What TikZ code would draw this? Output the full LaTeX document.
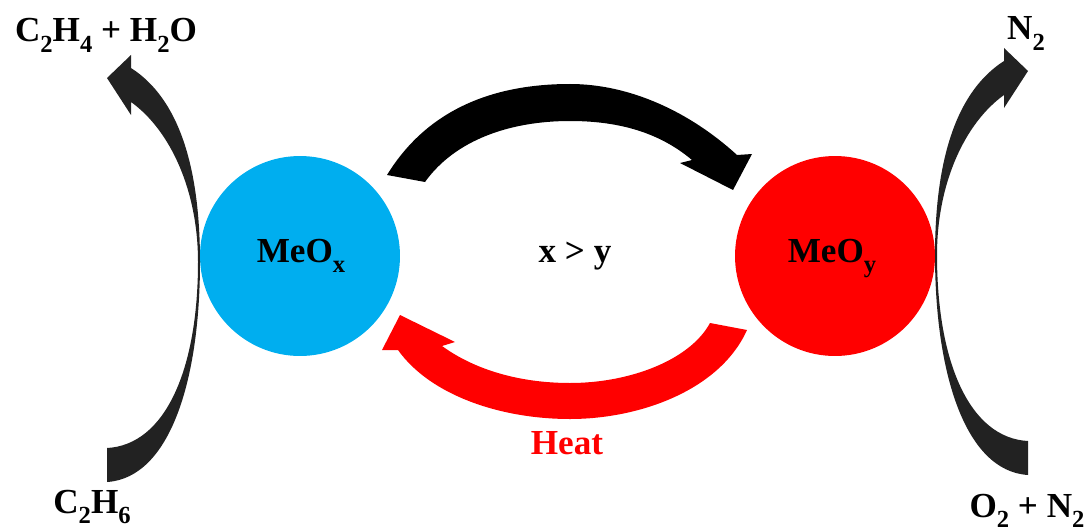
\documentclass[tikz,border=0pt]{standalone}
\usepackage{fontspec}
\setmainfont{Liberation Serif}
\usetikzlibrary{positioning}
\definecolor{oxblue}{RGB}{0,174,239}
\definecolor{hotred}{RGB}{255,0,0}
\definecolor{arrowgray}{RGB}{34,34,34}
\newcommand{\chsub}[1]{\raisebox{-0.3em}{\fontsize{14}{14}\selectfont #1}}
\tikzstyle{ball}=[circle, minimum size=4cm, inner sep=0pt,
  font=\fontsize{20}{24}\selectfont\bfseries]
\tikzstyle{lbl}=[inner sep=0pt, anchor=base,
  font=\fontsize{20}{24}\selectfont\bfseries]

\begin{document}
\begin{tikzpicture}[x=0.02cm, y=-0.02cm]
    \useasboundingbox (0,0) rectangle (1091,527);
    \node[ball, fill=oxblue] (meox) at (300,256) {};
    \node[ball, fill=hotred] (meoy) at (835,256) {};
    \node[lbl] (oxlbl) at (301,262) {MeO\chsub{x}};
    \node[lbl] (redlbl) at (832,262) {MeO\chsub{y}};
    \node[lbl] (ratio) at (575,262) {x > y};
    \node[lbl, text=hotred] (heat) at (567,454) {Heat};
    \node[lbl] (ethene) at (106,42) {C\chsub{2}H\chsub{4} + H\chsub{2}O};
    \node[lbl] (ethane) at (92,513) {C\chsub{2}H\chsub{6}};
    \node[lbl] (nout) at (1026,40) {N\chsub{2}};
    \node[lbl] (air) at (1027,517) {O\chsub{2} + N\chsub{2}};
    % reduction: MeOx -> MeOy
    \fill[black] (387,175) .. controls (430,105) and (500,84) .. (570,84)
      .. controls (630,84) and (690,112) .. (737,155) -- (752,154) -- (733,190)
      -- (680,163) -- (692,160) .. controls (660,133) and (620,121) .. (570,121)
      .. controls (510,121) and (455,140) .. (425,182) -- cycle;
    % regeneration: MeOy -> MeOx
    \fill[hotred] (710,323) -- (747,330) .. controls (720,390) and (640,419) .. (570,419)
      .. controls (500,419) and (430,395) .. (398,350) -- (382,350) -- (400,315)
      -- (455,342) -- (442,346) .. controls (475,370) and (520,383) .. (570,383)
      .. controls (630,383) and (690,360) .. (710,323) -- cycle;
    % feed side
    \fill[arrowgray] (107,448) -- (107,482) .. controls (170,478) and (200,380) .. (200,262)
      .. controls (200,165) and (178,98) .. (131,68) -- (131,55) -- (107,78)
      -- (131,115) -- (131,102) .. controls (170,130) and (198,190) .. (198,262)
      .. controls (198,370) and (165,445) .. (107,448) -- cycle;
    % air side
    \fill[arrowgray] (1028,441) -- (1028,475) .. controls (965,471) and (935,373) .. (935,255)
      .. controls (935,158) and (957,91) .. (1004,61) -- (1004,48) -- (1028,71)
      -- (1004,108) -- (1004,95) .. controls (965,123) and (937,183) .. (937,255)
      .. controls (937,363) and (970,438) .. (1028,441) -- cycle;
  \end{tikzpicture}
\end{document}
